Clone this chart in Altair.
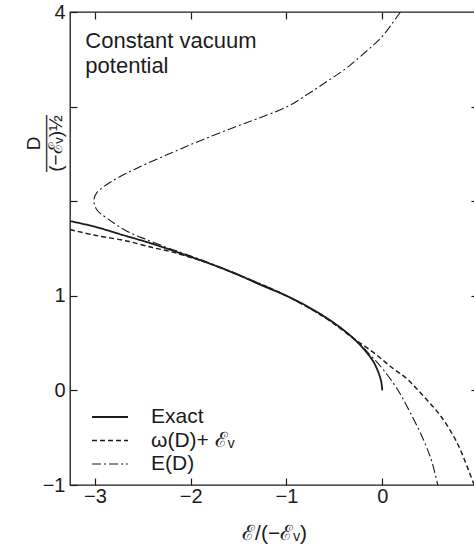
import altair as alt
import pandas as pd

# ---- data ----
series_names = ["Exact", "ω(D)+ ℰᵥ", "E(D)"]

exact_E = [-3.26, -3.0, -2.7, -2.4, -2.08, -1.8, -1.5, -1.28, -1.0, -0.75, -0.5, -0.3, -0.17, -0.09, -0.04, -0.01, 0.0]
exact_D = [1.79, 1.73, 1.64, 1.55, 1.44, 1.34, 1.22, 1.12, 1.0, 0.87, 0.71, 0.55, 0.41, 0.30, 0.19, 0.09, 0.0]

approx_E = [-3.26, -3.0, -2.67, -2.4, -2.22, -2.08, -1.8, -1.5, -1.0, -0.6, -0.3, -0.09, 0.09, 0.26, 0.43, 0.61, 0.78, 0.90, 0.96]
approx_D = [1.70, 1.64, 1.58, 1.51, 1.47, 1.43, 1.34, 1.22, 1.0, 0.77, 0.55, 0.40, 0.25, 0.12, -0.06, -0.27, -0.55, -0.84, -1.0]

ed_E = [0.19, -0.01, -0.16, -0.37, -0.57, -0.78, -0.99, -1.31, -1.55, -1.90, -2.25, -2.60, -2.84, -2.98, -3.01,
        -2.98, -2.86, -2.66, -2.45, -2.22, -2.05, -1.8, -1.5, -1.0, -0.5, -0.3, -0.14, 0.01, 0.16, 0.29, 0.43, 0.52, 0.58]
ed_D = [4.0, 3.73, 3.59, 3.41, 3.27, 3.13, 3.0, 2.87, 2.78, 2.64, 2.49, 2.33, 2.20, 2.09, 2.01,
        1.91, 1.81, 1.68, 1.59, 1.50, 1.44, 1.345, 1.225, 1.0, 0.71, 0.55, 0.39, 0.22, 0.01, -0.23, -0.52, -0.76, -1.0]

x_ticks = [-3, -2, -1, 0]
y_ticks = [-1, 0, 1, 2, 3, 4]
y_right_ticks = [0, 1, 2, 3]
note_text = ["Constant vacuum\npotential"]
note_E = [-3.1]
note_D = [3.80]

# ---- styles ----
dash_styles = [[1, 0], [5, 3], [9, 3, 2, 3]]
stroke_widths = [1.8, 1.1, 1.1]
FONT = "Liberation Sans"
INK = "#1c1c1c"

rows = []
for name, xs, ys in zip(series_names, [exact_E, approx_E, ed_E], [exact_D, approx_D, ed_D]):
    for i, (x, y) in enumerate(zip(xs, ys)):
        rows.append({"series": name, "E": x, "D": y, "order": i})
df = pd.DataFrame(rows)
note_df = pd.DataFrame({"E": note_E, "D": note_D, "text": note_text})

xscale = alt.Scale(domain=[-3.26, 1.0], nice=False, zero=False)
yscale = alt.Scale(domain=[-1, 4], nice=False, zero=False)

legend = alt.Legend(
    title=None, orient="none", legendX=21, legendY=394, symbolType="stroke",
    symbolSize=1296, symbolStrokeColor=INK, labelFont=FONT, labelFontSize=21,
    labelColor=INK, labelOffset=22, clipHeight=22, rowPadding=1.5, padding=0,
    symbolOffset=0,
)

lines = alt.Chart(df).mark_line(interpolate="catmull-rom", color=INK, clip=True).encode(
    x=alt.X("E:Q", scale=xscale, axis=alt.Axis(
        orient="bottom", values=x_ticks, format="d", title="ℰ/(−ℰᵥ)",
        titleFontSize=21, titleBaseline="middle", titleY=55,
        domain=False, offset=-7, tickSize=7, labelPadding=1, labelFontSize=20,
        labelFlush=False)),
    y=alt.Y("D:Q", scale=yscale, axis=alt.Axis(
        orient="left", values=y_ticks,
        labelExpr="indexof([-1, 0, 1, 4], datum.value) >= 0 ? datum.label : ''",
        format="d",
        title=["D", "———", "(−ℰᵥ)½"], titleFontSize=19, titleLineHeight=11,
        titleAngle=270, titleBaseline="middle", titleAlign="center",
        titleX=-44, titleY=131,
        domain=False, offset=-7, tickSize=7, labelPadding=5, labelFontSize=20,
        labelFlush=False)),
    strokeDash=alt.StrokeDash("series:N", scale=alt.Scale(domain=series_names, range=dash_styles), legend=legend),
    strokeWidth=alt.StrokeWidth("series:N", scale=alt.Scale(domain=series_names, range=stroke_widths), legend=legend),
    order="order:Q",
)

frame_ticks = alt.Chart(df).mark_point(opacity=0, size=1).encode(
    x=alt.X("E:Q", scale=xscale, axis=alt.Axis(
        orient="top", values=x_ticks, labels=False, title=None,
        domain=False, offset=-7, tickSize=7)),
    y=alt.Y("D:Q", scale=yscale, axis=alt.Axis(
        orient="right", values=y_right_ticks, labels=False, title=None,
        domain=False, offset=-7, tickSize=7)),
)

note = alt.Chart(note_df).mark_text(
    align="left", baseline="top", font=FONT, fontSize=22, lineHeight=25,
    color=INK, lineBreak="\n",
).encode(
    x=alt.X("E:Q", scale=xscale, axis=None),
    y=alt.Y("D:Q", scale=yscale, axis=None),
    text="text:N",
)

chart = alt.layer(lines, frame_ticks, note).resolve_axis(
    x="independent", y="independent"
).properties(
    width=408, height=473,
    padding={"left": 70, "top": 12, "right": -4, "bottom": 70},
    autosize=alt.AutoSizeParams(type="none"),
    background="white",
).configure_view(
    stroke=INK, strokeWidth=1.3,
).configure_axis(
    grid=False, labelFont=FONT, titleFont=FONT, labelColor=INK, titleColor=INK,
    tickColor=INK, tickWidth=1.2, titleFontWeight="normal",
)

chart.save("out.html", embed_options={"renderer": "svg", "actions": False})
